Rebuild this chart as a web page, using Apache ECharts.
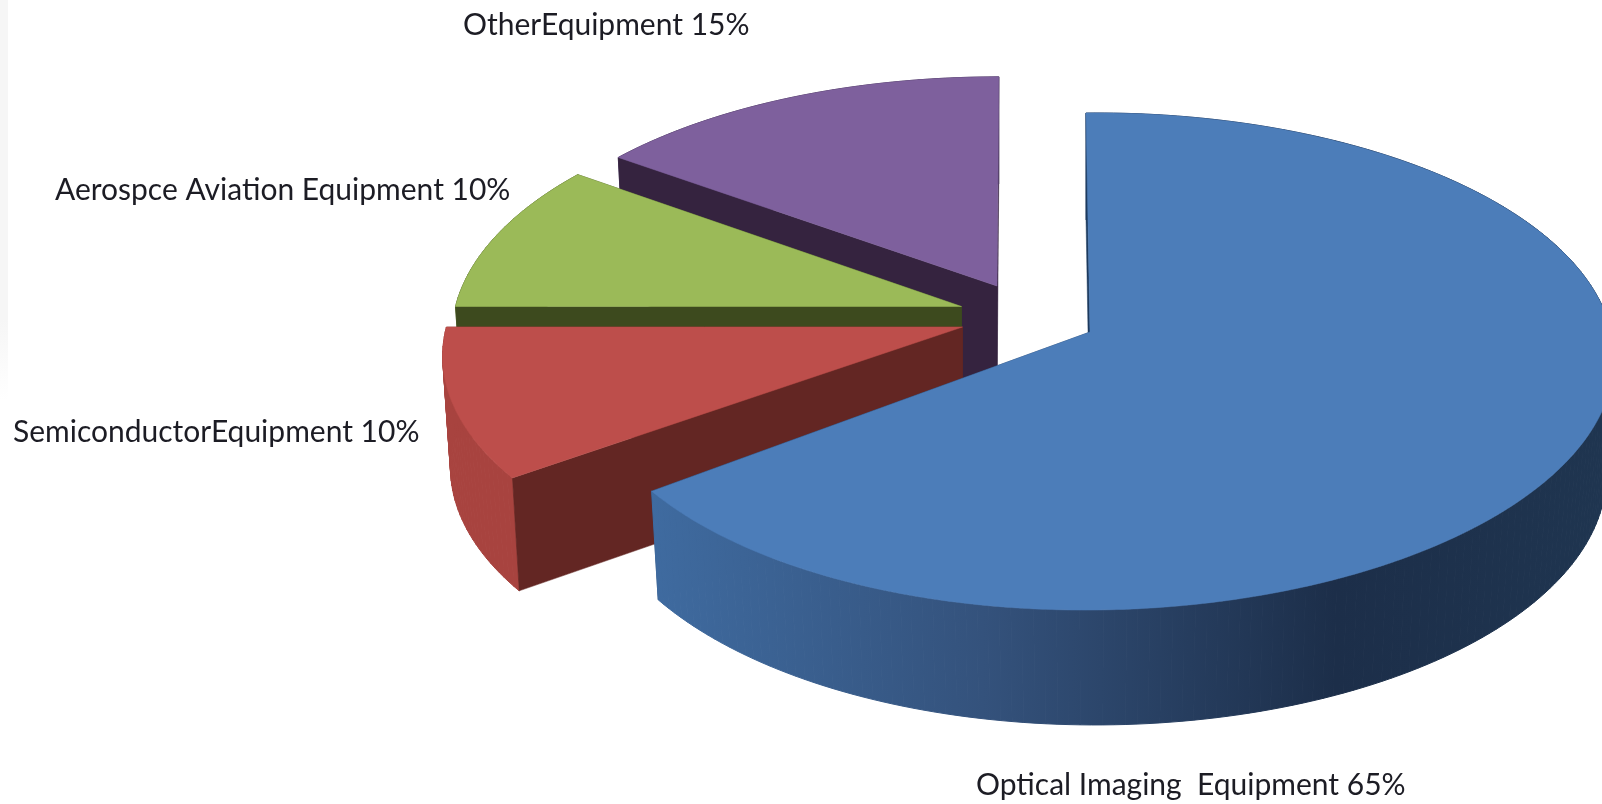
<!DOCTYPE html>
<html>
<head>
<meta charset="utf-8">
<style>html,body{margin:0;padding:0;background:#fff}#c{width:1602px;height:804px}</style>
<script src="https://cdn.jsdelivr.net/npm/echarts@6/dist/echarts.min.js"></script>
</head>
<body>
<div id="c"></div>
<script>
// Data, clockwise from twelve o'clock
const categories = ['Optical Imaging  Equipment', 'SemiconductorEquipment', 'Aerospce Aviation Equipment', 'OtherEquipment'];
const shares = [65, 10, 10, 15];

// Styles
const topColors = ['#4c7db9', '#bd4e4b', '#9bba58', '#7e609d'];
const radialColors = ['#1c3a5e', '#632623', '#3d4a1e', '#35233f'];
const rimColors = [
  [[0, '#3f6ba0'], [0.35, '#34527c'], [0.72, '#1c2e49'], [1, '#1f3550']],
  [[0, '#a8433f'], [1, '#b04a46']],
  [[0, '#5d7033'], [1, '#5d7033']],
  [[0, '#4c3a60'], [1, '#4c3a60']]
];
const rimGradientSpan = [650, 1602];

// Layout of the 3D projection
const pieCenter = [1090, 332];
const explode = [[0, 0], [-127.5, -5], [-128.5, -25.5], [-93, -46]];
const radiusX = 513, radiusXSkew = 7, radiusY = 245, perspective = 0.1187;
const lowerDepth = 110.5, lowerScaleX = 0.985, lowerScaleY = 1.016;
const sliceScaleX = [1, 1.02, 1, 0.99];
const sliceScaleY = [1, 0.975, 0.98, 0.955];
const sliceShear = [4.5, 0, 0, -2];
const sliceTilt = [-5, 0, 0, 0];
const labelPos = [[976, 785], [13, 432], [55, 190], [463, 25]];

const total = shares.reduce((a, b) => a + b, 0);
function angles(i) {
  let s = 0;
  for (let k = 0; k < i; k++) s += shares[k];
  return [s / total * 2 * Math.PI, (s + shares[i]) / total * 2 * Math.PI];
}
function project(i, r, th, low) {
  const u = r * Math.sin(th), v = -r * Math.cos(th);
  const s = 1 / (1 - perspective * v);
  let dx = (u * (radiusX + radiusXSkew * u) * sliceScaleX[i] + sliceShear[i] * v) * s;
  let dy = radiusY * v * s * sliceScaleY[i];
  if (low) { dx *= lowerScaleX; dy = dy * lowerScaleY + lowerDepth; }
  else { dy += sliceTilt[i] * u * s; }
  return [pieCenter[0] + explode[i][0] + dx, pieCenter[1] + explode[i][1] + dy];
}
function arcAngles(a0, a1, step) {
  const n = Math.max(8, Math.ceil((a1 - a0) / step)), out = [];
  for (let k = 0; k <= n; k++) out.push(a0 + (a1 - a0) * k / n);
  return out;
}
function renderSlice(params, api) {
  const i = api.value(0);
  const [a0, a1] = angles(i);
  const radial = th => ({
    type: 'polygon',
    shape: { points: [project(i, 0, th, false), project(i, 1, th, false), project(i, 1, th, true), project(i, 0, th, true)] },
    style: { fill: radialColors[i], stroke: radialColors[i], lineWidth: 0.5 }
  });
  const grad = new echarts.graphic.LinearGradient(rimGradientSpan[0], 0, rimGradientSpan[1], 0,
    rimColors[i].map(c => ({ offset: c[0], color: c[1] })), true);
  // rim is swept as small quads so the silhouette stays correct where the upper and lower arcs shift
  const steps = arcAngles(a0, a1, 0.02);
  const rim = [];
  for (let k = 0; k + 1 < steps.length; k++) {
    rim.push({
      type: 'polygon',
      shape: { points: [project(i, 1, steps[k], false), project(i, 1, steps[k + 1], false), project(i, 1, steps[k + 1], true), project(i, 1, steps[k], true)] },
      style: { fill: grad, stroke: grad, lineWidth: 1 }
    });
  }
  const top = {
    type: 'polygon',
    shape: { points: [project(i, 0, a0, false)].concat(arcAngles(a0, a1, 0.01).map(t => project(i, 1, t, false))) },
    style: { fill: topColors[i], stroke: topColors[i], lineWidth: 0.5 }
  };
  const label = {
    type: 'text',
    x: labelPos[i][0], y: labelPos[i][1],
    style: {
      text: categories[i] + ' ' + shares[i] + '%',
      fill: '#1c1c24', font: '30px Lato', textAlign: 'left', textVerticalAlign: 'middle'
    }
  };
  // painter's order: back-facing wall, rim, front-facing wall, top
  const children = [];
  if (Math.sin(a1) <= 0) children.push(radial(a1));
  children.push(...rim);
  children.push(radial(a0));
  children.push(top, label);
  return { type: 'group', children };
}
// far slices first so nearer slices cover them
const drawOrder = categories.map((_, i) => i).reverse();
const chart = echarts.init(document.getElementById('c'), null, { renderer: 'canvas' });
chart.setOption({
  animation: false,
  backgroundColor: '#ffffff',
  graphic: [{
    type: 'rect', shape: { x: 0, y: 0, width: 8, height: 400 },
    style: { fill: new echarts.graphic.LinearGradient(0, 0, 0, 1, [
      { offset: 0, color: '#f6f6f6' }, { offset: 0.8, color: '#f6f6f6' }, { offset: 1, color: '#ffffff' }]) },
    z: -1
  }],
  series: [{
    type: 'custom',
    coordinateSystem: 'none',
    renderItem: renderSlice,
    data: drawOrder.map(i => [i, shares[i], categories[i]]),
    silent: true
  }]
});
</script>
</body>
</html>
